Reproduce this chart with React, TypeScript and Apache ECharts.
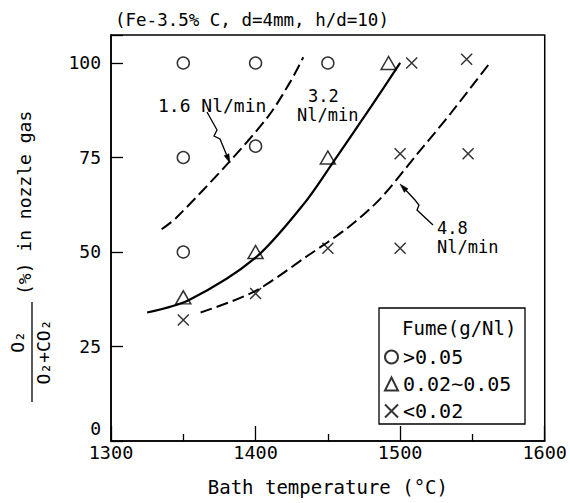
import React, { useEffect, useRef } from 'react';
import * as echarts from 'echarts';

const FONT = '"DejaVu Sans Mono", "Liberation Mono", monospace';

// axes
const xMin = 1300;
const xMax = 1600;
const xStep = 100;
const yMin = 0;
const yMax = 107.4;
const yStep = 25;

// legend / series names
const legendNames = ['>0.05', '0.02~0.05', '<0.02'];

// measured points [temperature °C, O2/(O2+CO2) %]
const circleData = [[1350, 100], [1400, 100], [1450, 100], [1350, 75], [1400, 78], [1350, 50]];
const triangleData = [[1350, 38], [1400, 50], [1450, 75], [1492, 100]];
const crossData = [[1350, 32], [1400, 39], [1450, 51], [1500, 51], [1500, 76], [1547, 76], [1508, 100], [1546, 101]];

// boundary curves
const curve16 = [[1335, 56], [1345, 59], [1381, 73.5], [1409, 86], [1424, 95], [1433, 101.5]];
const curve32 = [[1325, 34], [1354, 37.3], [1400, 48.5], [1434, 63], [1455, 74.5], [1480, 88.5], [1500, 100]];
const curve48 = [[1362, 34], [1399, 39.5], [1436, 49], [1464, 56.5], [1486, 64], [1512, 76], [1535, 86.7], [1561, 99.5]];

const CROSS = 'path://M0,0L10,10M0,10L10,0';

function leader(points: number[][]) {
  const n = points.length;
  const [tx, ty] = points[n - 1];
  const [px, py] = points[n - 2];
  const dx = tx - px;
  const dy = ty - py;
  const len = Math.sqrt(dx * dx + dy * dy);
  const ux = dx / len;
  const uy = dy / len;
  const L = 9;
  const W = 2.6;
  const bx = tx - ux * L;
  const by = ty - uy * L;
  return [
    {
      type: 'polyline',
      shape: { points: points.slice(0, n - 1).concat([[bx, by]]) },
      style: { stroke: '#000', lineWidth: 1.3, fill: 'none' },
    },
    {
      type: 'polygon',
      shape: { points: [[tx, ty], [bx - uy * W, by + ux * W], [bx + uy * W, by - ux * W]] },
      style: { fill: '#000', stroke: '#000', lineWidth: 0.5 },
    },
  ];
}

export default function App() {
  const ref = useRef<HTMLDivElement>(null);
  useEffect(() => {
    if (!ref.current) return;
    const chart = echarts.init(ref.current, null, { renderer: 'svg' });
    const txt = (text: string, x: number, y: number, size = 18, align = 'left') => ({
      type: 'text',
      x,
      y,
      style: { text, fontFamily: FONT, fontSize: size, fill: '#000', align, verticalAlign: 'middle' },
    });
    const curveBase = { type: 'line', smooth: 0.3, showSymbol: false, silent: true };
    const option: any = {
      animation: false,
      backgroundColor: '#fff',
      title: {
        text: '(Fe-3.5% C, d=4mm, h/d=10)',
        left: 110,
        top: 6,
        textStyle: { fontFamily: FONT, fontSize: 17.5, fontWeight: 'normal', color: '#000' },
      },
      grid: {
        left: 111,
        right: 22,
        top: 35,
        bottom: 62,
        show: true,
        borderColor: '#000',
        borderWidth: 1.5,
        backgroundColor: 'transparent',
      },
      legend: {
        data: legendNames,
        orient: 'vertical',
        left: 379,
        top: 341,
        itemWidth: 13,
        itemHeight: 13,
        itemGap: 5,
        selectedMode: false,
        textStyle: { fontFamily: FONT, fontSize: 20, color: '#000', lineHeight: 22 },
      },
      xAxis: {
        type: 'value',
        min: xMin,
        max: xMax,
        interval: xStep,
        name: 'Bath temperature (°C)',
        nameLocation: 'middle',
        nameGap: 36,
        nameTextStyle: { fontFamily: FONT, fontSize: 19, color: '#000' },
        axisLine: { show: true, lineStyle: { color: '#000', width: 1.5 } },
        axisTick: { show: true, inside: true, length: 15, lineStyle: { color: '#000', width: 1.3 } },
        minorTick: { show: true, splitNumber: 2, length: 7, lineStyle: { color: '#000', width: 1.3 } },
        splitLine: { show: false },
        axisLabel: {
          fontFamily: FONT,
          fontSize: 18.5,
          color: '#000',
          margin: 2,
          formatter: (v: number) => String(v),
        },
      },
      yAxis: {
        type: 'value',
        min: yMin,
        max: yMax,
        interval: yStep,
        axisLine: { show: true, lineStyle: { color: '#000', width: 1.5 } },
        axisTick: { show: true, inside: true, length: 12, lineStyle: { color: '#000', width: 1.3 } },
        splitLine: { show: false },
        axisLabel: {
          fontFamily: FONT,
          fontSize: 18,
          color: '#000',
          margin: 10,
          formatter: (v: number) => (v % yStep !== 0 ? '' : v === 0 ? '{z|0}' : String(v)),
          rich: { z: { fontFamily: FONT, fontSize: 18, color: '#000', padding: [0, 0, 26, 0] } },
        },
      },
      series: [
        {
          ...curveBase,
          name: '1.6 Nl/min',
          data: curve16,
          lineStyle: { color: '#000', width: 2, type: [12, 5] },
        },
        {
          ...curveBase,
          name: '3.2 Nl/min',
          data: curve32,
          lineStyle: { color: '#000', width: 2.2 },
        },
        {
          ...curveBase,
          name: '4.8 Nl/min',
          data: curve48,
          lineStyle: { color: '#000', width: 2, type: [12, 5] },
        },
        {
          name: legendNames[0],
          type: 'scatter',
          data: circleData,
          symbol: 'circle',
          symbolSize: 12,
          itemStyle: { color: 'transparent', borderColor: '#000', borderWidth: 1.5 },
        },
        {
          name: legendNames[1],
          type: 'scatter',
          data: triangleData,
          symbol: 'triangle',
          symbolSize: [15, 13],
          itemStyle: { color: 'transparent', borderColor: '#000', borderWidth: 1.5 },
        },
        {
          name: legendNames[2],
          type: 'scatter',
          data: crossData,
          symbol: CROSS,
          symbolSize: 11,
          itemStyle: { color: 'transparent', borderColor: '#000', borderWidth: 1.5 },
        },
      ],
      graphic: [
        // y-axis title (rotated)
        {
          type: 'group',
          x: 32,
          y: 352,
          rotation: Math.PI / 2,
          children: [
            txt('O₂', 10, -15, 18, 'center'),
            {
              type: 'line',
              shape: { x1: -50, y1: 0, x2: 50, y2: 0 },
              style: { stroke: '#000', lineWidth: 1.3 },
            },
            txt('O₂+CO₂', 0, 11, 18, 'center'),
            txt('(%) in nozzle gas', 57, -8, 18, 'left'),
          ],
        },
        // curve annotations
        txt('1.6 Nl/min', 158, 105, 18),
        txt('3.2', 308, 96, 17),
        txt('Nl/min', 297, 115, 17),
        txt('4.8', 437, 228, 17),
        txt('Nl/min', 437, 247, 17),
        ...leader([[207, 112], [217, 130], [214, 136], [220, 139], [230, 163]]),
        ...leader([[433, 225], [417, 210], [419, 205], [415, 200], [400, 184]]),
        // legend frame
        {
          type: 'rect',
          shape: { x: 379, y: 308, width: 146, height: 116 },
          style: { fill: 'none', stroke: '#000', lineWidth: 1.3 },
        },
        txt('Fume(g/Nl)', 402, 328, 19),
      ],
    };
    chart.setOption(option);
    return () => chart.dispose();
  }, []);
  return (
    <div
      ref={ref}
      style={{ position: 'fixed', left: 0, top: 0, width: 570, height: 503, overflow: 'hidden' }}
    />
  );
}
